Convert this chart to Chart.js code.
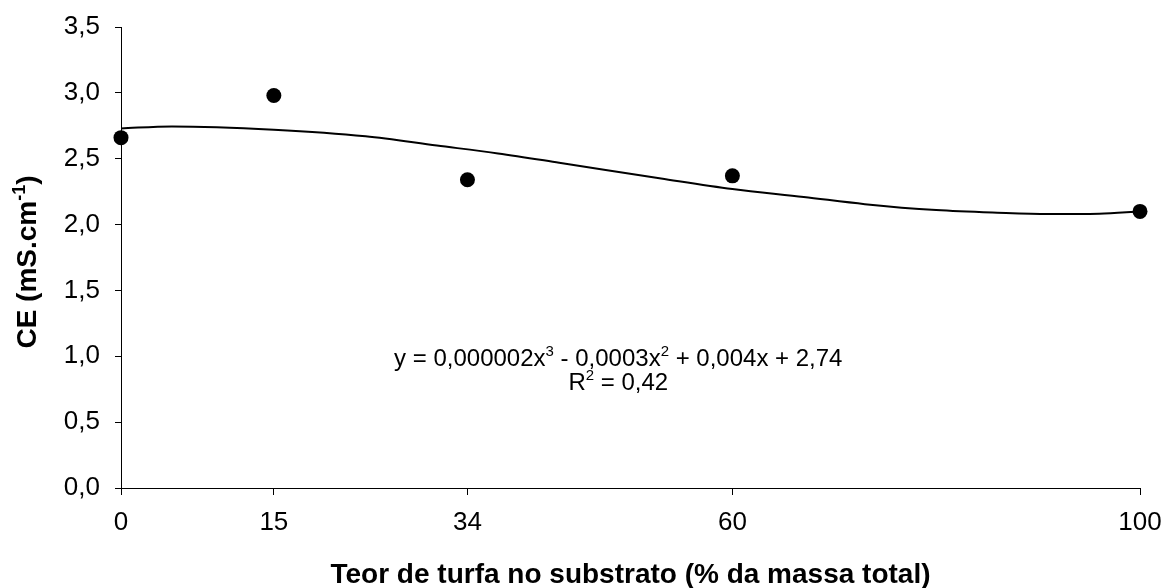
<!DOCTYPE html>
<html>
<head>
<meta charset="utf-8">
<script src="https://cdn.jsdelivr.net/npm/chart.js@4/dist/chart.umd.min.js"></script>
<style>
  html, body { margin: 0; padding: 0; background: #ffffff; }
  canvas { display: block; }
</style>
</head>
<body>
<canvas id="chart" width="1167" height="588"></canvas>
<script>
// Peat content in the substrate (% of total mass) and measured electrical conductivity
const peatContent = [0, 15, 34, 60, 100];
const conductivity = [2.66, 2.98, 2.34, 2.37, 2.10];

// Cubic trend line, sampled along the fitted curve
const trendX = [0, 5, 15, 24, 31, 37, 43, 53, 60, 67, 73, 80, 86, 91, 96, 100];
const trendY = [2.73, 2.745, 2.72, 2.67, 2.60, 2.54, 2.47, 2.35, 2.27, 2.21, 2.155, 2.11, 2.09, 2.08, 2.083, 2.10];

// Axis ticks
const xTickValues = [0, 15, 34, 60, 100];
const yTickValues = [0, 0.5, 1.0, 1.5, 2.0, 2.5, 3.0, 3.5];

// Texts
const xTitle = 'Teor de turfa no substrato (% da massa total)';
const yTitleParts = [['CE (mS.cm', false], ['-1', true], [')', false]];
const equationParts = [
  ['y = 0,000002x', false], ['3', true], [' - 0,0003x', false], ['2', true], [' + 0,004x + 2,74', false]
];
const r2Parts = [['R', false], ['2', true], [' = 0,42', false]];

const FONT = "'Liberation Sans', Arial, Helvetica, sans-serif";

// Draws a single line of text centred on cx, with raised smaller parts for exponents
function drawRichLine(ctx, parts, cx, baseline, size, supSize, supRise, weight) {
  const w = parts.reduce((acc, [t, sup]) => {
    ctx.font = `${weight} ${sup ? supSize : size}px ${FONT}`;
    return acc + ctx.measureText(t).width;
  }, 0);
  let x = cx - w / 2;
  ctx.textAlign = 'left';
  ctx.textBaseline = 'alphabetic';
  for (const [t, sup] of parts) {
    ctx.font = `${weight} ${sup ? supSize : size}px ${FONT}`;
    ctx.fillText(t, x, sup ? baseline - supRise : baseline);
    x += ctx.measureText(t).width;
  }
}

const annotations = {
  id: 'annotations',
  afterDraw(chart) {
    const { ctx, chartArea, scales } = chart;
    ctx.save();
    ctx.fillStyle = '#000';

    // regression equation and coefficient of determination
    const cx = scales.x.getPixelForValue(48.8);
    const b1 = scales.y.getPixelForValue(0.93);
    drawRichLine(ctx, equationParts, cx, b1, 24, 15, 10, 'normal');
    drawRichLine(ctx, r2Parts, cx, b1 + 24, 24, 15, 10, 'normal');

    // x axis title
    ctx.font = `bold 28px ${FONT}`;
    ctx.textAlign = 'center';
    ctx.textBaseline = 'alphabetic';
    ctx.fillText(xTitle, (chartArea.left + chartArea.right) / 2, 583);

    // y axis title (rotated, with superscript)
    ctx.translate(36, 262);
    ctx.rotate(-Math.PI / 2);
    drawRichLine(ctx, yTitleParts, 0, 0, 28, 18, 11, 'bold');
    ctx.restore();
  }
};

const axisColor = '#000000';

new Chart(document.getElementById('chart'), {
  type: 'scatter',
  data: {
    datasets: [
      {
        label: 'Tendência',
        data: trendX.map((x, i) => ({ x, y: trendY[i] })),
        showLine: true,
        borderColor: '#000',
        borderWidth: 2,
        pointRadius: 0,
        pointHoverRadius: 0,
        cubicInterpolationMode: 'monotone',
        fill: false,
        clip: false,
        order: 2
      },
      {
        label: 'CE',
        data: peatContent.map((x, i) => ({ x, y: conductivity[i] })),
        pointRadius: 7.5,
        pointHoverRadius: 7.5,
        backgroundColor: '#000',
        borderColor: '#000',
        borderWidth: 0,
        clip: false,
        order: 1
      }
    ]
  },
  options: {
    responsive: false,
    animation: false,
    devicePixelRatio: 1,
    layout: { padding: { top: 27, right: 27, left: 0, bottom: 0 } },
    plugins: {
      legend: { display: false },
      tooltip: { enabled: false }
    },
    scales: {
      x: {
        type: 'linear',
        min: 0,
        max: 100,
        afterBuildTicks: (s) => { s.ticks = xTickValues.map(v => ({ value: v })); },
        afterFit: (s) => { s.height = 100; s.paddingLeft = 0; s.paddingRight = 0; },
        ticks: {
          color: '#000',
          font: { family: FONT, size: 26 },
          padding: 12,
          autoSkip: false,
          maxRotation: 0,
          callback: (v) => String(v)
        },
        grid: { display: true, drawOnChartArea: false, drawTicks: true, tickLength: 7, color: axisColor, lineWidth: 1 },
        border: { display: true, color: axisColor, width: 1 }
      },
      y: {
        type: 'linear',
        min: 0,
        max: 3.5,
        afterBuildTicks: (s) => { s.ticks = yTickValues.map(v => ({ value: v })); },
        afterFit: (s) => { s.width = 121; s.paddingTop = 0; s.paddingBottom = 0; },
        ticks: {
          color: '#000',
          font: { family: FONT, size: 26 },
          padding: 15,
          callback: (v) => Number(v).toFixed(1).replace('.', ',')
        },
        grid: { display: true, drawOnChartArea: false, drawTicks: true, tickLength: 6, color: axisColor, lineWidth: 1 },
        border: { display: true, color: axisColor, width: 1 }
      }
    }
  },
  plugins: [annotations]
});
</script>
</body>
</html>
